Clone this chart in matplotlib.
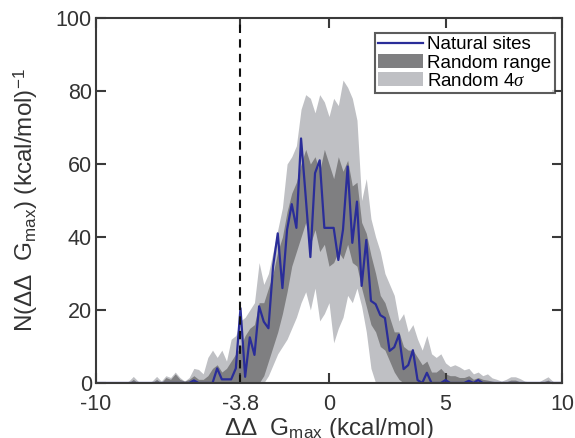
import numpy as np
import matplotlib.pyplot as plt

plt.rcParams['font.family'] = ['Liberation Sans', 'DejaVu Sans']
plt.rcParams['mathtext.fontset'] = 'custom'
plt.rcParams['mathtext.rm'] = 'Liberation Sans'
plt.rcParams['mathtext.it'] = 'Liberation Serif:italic'

# bin centres, -10 .. 10 in steps of 0.2
ddg = np.linspace(-10, 10, 101)

natural = [0, 0, 0, 0, 0, 0, 0, 0, 0, 0,
           0, 0, 0, 0, 0, 0, 0, 0, 0, 0,
           0, 0.7, 0, 0, 0, 0, 4, 1, 1, 1,
           4, 20.5, 1.7, 12.5, 7.7, 21, 16.8, 15, 32, 41,
           26, 42, 49, 42.5, 67, 51, 34.5, 57.5, 61, 42.5,
           42.5, 42.5, 33.7, 42, 59.3, 38.4, 49.7, 26.6, 39.2, 22.5,
           21.6, 18.6, 17.8, 8.8, 9.8, 13.2, 3.8, 4.9, 9, 0.8,
           0, 2.8, 0, 0, 0, 0.8, 0, 0, 0, 0,
           0.6, 0, 0.8, 0, 0, 0, 0, 0, 0, 0,
           0, 0, 0, 0, 0, 0, 0, 0, 0, 0,
           0]

sigma_hi = [0, 0, 0, 0, 0, 0, 0, 0.5, 1.8, 0.5,
            0, 0, 0.5, 1.8, 0.5, 2, 1.5, 3, 1.5, 0.5,
            1.5, 4, 3.7, 2.5, 7, 9, 7, 9, 6, 12,
            13, 17, 18, 20, 22, 33, 27, 30, 36, 42,
            48, 60, 62, 65, 75, 79, 78, 74, 79, 77,
            73, 78, 76, 83, 81, 78, 72, 50, 56, 45,
            40, 36, 30, 27, 24, 17, 19, 14, 16, 12,
            9, 13, 8, 7, 8, 5.5, 4.5, 5, 4.4, 3.6,
            4, 2.5, 3, 2, 2.5, 1.4, 1, 0.5, 1, 1.7,
            1.7, 1.2, 0.5, 0.3, 0.3, 0.3, 1, 1.7, 0.5, 0,
            0]

sigma_lo = [0] * 37 + [2, 5, 8,
            10, 12, 15, 18, 22, 25, 20, 26, 17, 19,
            22, 11, 15, 18, 24, 22, 26, 21, 14, 4] + [0] * 41

range_hi = [0, 0, 0, 0, 0, 0, 0, 0, 1, 0,
            0, 0, 0, 1, 0, 1.5, 1, 2.5, 1, 0.5,
            1, 2, 1, 1, 2, 4, 5, 3, 4, 6,
            8, 10, 13, 15, 16, 22, 22, 26, 30, 36,
            40, 47, 52, 55, 60, 64, 60, 62, 58, 64,
            60, 56, 62, 58, 61, 54, 55, 44, 41, 35,
            30, 24, 22, 18, 14, 14, 10, 9, 9, 7,
            5, 6, 3, 3, 4, 2.5, 2, 2, 1.5, 1.5,
            2, 1, 1.5, 1, 0.8, 0.5, 0.3, 0, 0.3, 0.8,
            0.8, 0.3, 0, 0, 0, 0, 0.3, 0.8, 0, 0,
            0]

range_lo = [0] * 36 + [2, 6, 10, 14,
            19, 25, 32, 36, 40, 44, 38, 42, 36, 38,
            32, 33, 36, 34, 38, 33, 32, 26, 21, 16,
            14, 10, 9, 6, 3, 1] + [0] * 35

fig = plt.figure(figsize=(5.75, 4.38), dpi=100)
ax = fig.add_axes([0.167, 0.1256, 0.8104, 0.8333])

ax.fill_between(ddg, sigma_lo, sigma_hi, color='#bfc0c4', lw=0, label=r'Random 4$\sigma$')
ax.fill_between(ddg, range_lo, range_hi, color='#7f7f81', lw=0, label='Random range')
ax.plot(ddg, natural, color='#2a2d99', lw=1.6, label='Natural sites')
ax.axvline(-3.8, color='#111111', lw=1.5, ls=(0, (4, 3)))

ax.set_xlim(-10, 10)
ax.set_ylim(0, 100)
ax.set_xticks([-10, -3.8, 0, 5, 10])
ax.set_xticklabels(['-10', '-3.8', '0', '5', '10'])
ax.set_yticks([0, 20, 40, 60, 80, 100])

for s in ax.spines.values():
    s.set_color('#3a3a3a')
    s.set_linewidth(1.5)
ax.tick_params(direction='in', length=7, width=1.5, color='#3a3a3a',
               top=True, right=True, labelsize=15.5, labelcolor='#333333', pad=3)
ax.tick_params(axis='x', pad=8)

ax.set_xlabel(r'$\Delta\Delta$  G$_{\rm max}$ (kcal/mol)', fontsize=17.5, color='#333333')
ax.xaxis.set_label_coords(0.5, -0.09)
ax.set_ylabel(r'N($\Delta\Delta$  G$_{\rm max}$) (kcal/mol)$^{-1}$', fontsize=17.5, color='#333333')
ax.yaxis.set_label_coords(-0.12, 0.5)

handles, labels = ax.get_legend_handles_labels()
leg = ax.legend(handles[::-1], labels[::-1], loc='upper right', bbox_to_anchor=(0.985, 0.96),
                fontsize=13.5, frameon=True, fancybox=False, borderpad=0.2,
                handlelength=2.4, handletextpad=0.2, labelspacing=0.05, borderaxespad=0)
leg.get_frame().set_edgecolor('#333333')
leg.get_frame().set_linewidth(1.5)

fig.savefig('out.png', dpi=100)
